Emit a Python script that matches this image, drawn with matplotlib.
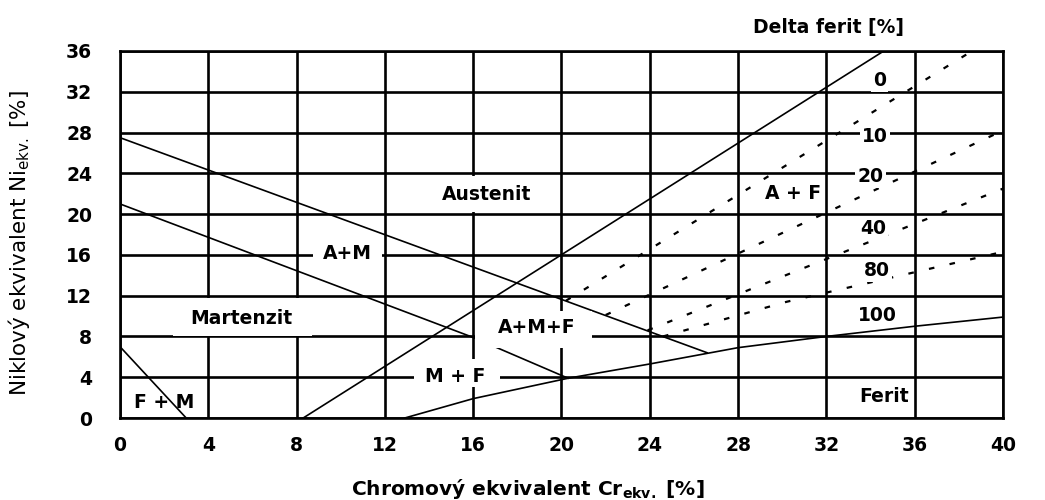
import numpy as np
import matplotlib
matplotlib.use('Agg')
import matplotlib.pyplot as plt
from matplotlib.patches import Rectangle

plt.rcParams['font.family'] = ['DejaVu Sans']

# phase boundaries (Cr_ekv, Ni_ekv)
fm_x = [0, 3.0]
fm_y = [7.0, 0]
mart_x = [0, 16, 20.3]
mart_y = [21.0, 7.9, 3.9]
am_x = [0, 26.6]
am_y = [27.5, 6.4]
aus_x = [8.3, 34.6]
aus_y = [0, 36]
fer_x = [12.9, 16, 20.3, 24, 28, 32, 36, 40]
fer_y = [0, 1.9, 3.9, 5.3, 6.9, 8.0, 9.0, 9.9]

# delta ferrite lines (dashed)
d10_x = [20.2, 38.6]
d10_y = [11.5, 36.0]
d20_x = [22.0, 40.0]
d20_y = [10.1, 28.2]
d40_x = [23.9, 40.0]
d40_y = [8.6, 22.5]
d80_x = [24.6, 30.2, 40.0]
d80_y = [8.0, 11.4, 16.3]

ticks = list(range(0, 41, 4))
yticks = list(range(0, 37, 4))

fig = plt.figure(figsize=(10.45, 5), dpi=100)
ax = fig.add_axes([0.1148, 0.164, 0.845, 0.734])
ax.set_xlim(0, 40)
ax.set_ylim(0, 36)
ax.set_xticks(ticks)
ax.set_yticks(yticks)
ax.tick_params(length=0, labelsize=13.5)
ax.tick_params(axis='x', pad=13)
ax.tick_params(axis='y', pad=20)
for lab in ax.get_xticklabels() + ax.get_yticklabels():
    lab.set_fontweight('bold')
ax.set_axisbelow(True)
ax.grid(True, color='black', lw=1.9)
for sp in ax.spines.values():
    sp.set_linewidth(1.9)

lk = dict(color='black', lw=1.2, zorder=3)
ax.plot(fm_x, fm_y, **lk)
ax.plot(mart_x, mart_y, **lk)
ax.plot(am_x, am_y, **lk)
ax.plot(aus_x, aus_y, **lk)
ax.plot(fer_x, fer_y, **lk)

dk = dict(color='black', lw=1.6, dashes=(2.5, 7), zorder=3)
ax.plot(d10_x, d10_y, **dk)
ax.plot(d20_x, d20_y, **dk)
ax.plot(d40_x, d40_y, **dk)
ax.plot(d80_x, d80_y, **dk)

# white label boxes that break the grid
for x0, x1, y0, y1 in [(2.4, 8.7, 8.0, 11.8), (14.3, 19.2, 20.25, 23.75),
                       (8.75, 11.85, 15.0, 17.3), (13.3, 17.2, 3.0, 5.8),
                       (16.1, 21.4, 6.85, 10.5)]:
    ax.add_patch(Rectangle((x0, y0), x1 - x0, y1 - y0, facecolor='white',
                           edgecolor='none', zorder=3.5))

tk = dict(fontsize=13.5, fontweight='bold', ha='center', va='center', zorder=4)
ax.text(16.6, 21.9, 'Austenit', **tk)
ax.text(10.3, 16.1, 'A+M', **tk)
ax.text(5.5, 9.8, 'Martenzit', **tk)
ax.text(18.9, 8.9, 'A+M+F', **tk)
ax.text(15.2, 4.1, 'M + F', **tk)
ax.text(2.0, 1.5, 'F + M', **tk)
ax.text(30.5, 22.0, 'A + F', **tk)
ax.text(34.6, 2.1, 'Ferit', **tk)

wb = dict(facecolor='white', edgecolor='none', pad=1.5)
ax.text(34.4, 33.1, '0', bbox=wb, **tk)
ax.text(34.2, 27.6, '10', bbox=wb, **tk)
ax.text(34.0, 23.7, '20', bbox=wb, **tk)
ax.text(34.1, 18.6, '40', bbox=wb, **tk)
ax.text(34.3, 14.5, '80', bbox=wb, **tk)
ax.text(34.3, 10.1, '100', bbox=wb, **tk)
ax.text(32.1, 38.3, 'Delta ferit [%]', clip_on=False, **tk)

ax.set_xlabel(r'Chromový ekvivalent Cr$_{\mathbf{ekv.}}$ [%]', fontsize=14.5,
              fontweight='bold')
ax.xaxis.set_label_coords(0.462, -0.16)
ax.set_ylabel(r'Niklový ekvivalent Ni$_{\mathregular{ekv.}}$ [%]', fontsize=15.5)
ax.yaxis.set_label_coords(-0.1, 0.477)

fig.savefig('out.png', dpi=100)
